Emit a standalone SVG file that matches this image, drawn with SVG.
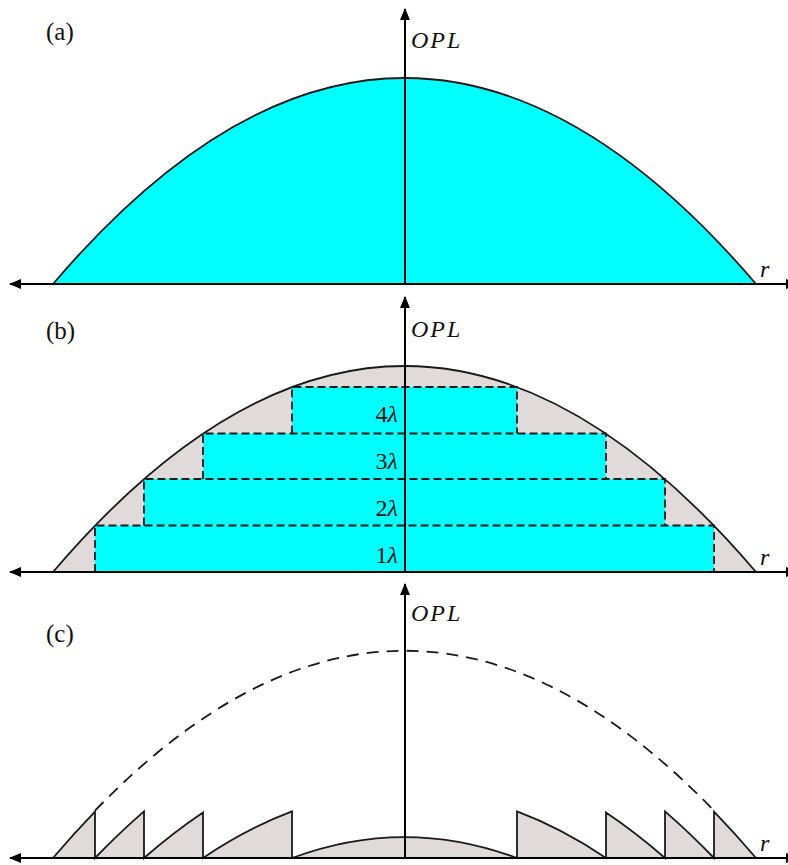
<svg xmlns="http://www.w3.org/2000/svg" width="788" height="865" viewBox="0 0 788 865">
<defs>
<style>
.lbl{font-family:"Liberation Serif","DejaVu Serif",serif;font-size:25px;fill:#111}
.math{font-family:"Liberation Serif","DejaVu Serif",serif;font-size:24px;font-style:italic;fill:#111;letter-spacing:2px}
.step{font-family:"Liberation Serif","DejaVu Serif",serif;font-size:24px;fill:#111}
.axis{stroke:#000;stroke-width:2;fill:none}
.curve{stroke:#1a1a1a;stroke-width:1.8;fill:none}
.cyan{fill:#00FFFF}
.grey{fill:#E1DADA}
.dash{stroke:#1a1a1a;stroke-width:1.8;fill:none;stroke-dasharray:8 4}
.dash2{stroke:#1a1a1a;stroke-width:1.8;fill:none;stroke-dasharray:12 8}
</style>
<marker id="ah" viewBox="0 0 12 10" refX="11" refY="5" markerWidth="12" markerHeight="10" markerUnits="userSpaceOnUse" orient="auto-start-reverse">
<path d="M0,0 L12,5 L0,10 Z" fill="#000"/>
</marker>
</defs>

<!-- Panel (a) -->
<g id="panel-a" transform="translate(0,284)">
<path class="cyan" d="M53,0 Q404.5,-412 756,0 Z"/>
<path class="curve" d="M53,0 Q404.5,-412 756,0"/>
</g>

<!-- Panel (b) -->
<g id="panel-b" transform="translate(0,572)">
<path class="grey" d="M53,0 Q404.5,-412 756,0 Z"/>
<rect class="cyan" x="95" y="-46.5" width="619" height="46.5"/>
<rect class="cyan" x="144" y="-93" width="521" height="46.5"/>
<rect class="cyan" x="203" y="-138.5" width="403" height="45.5"/>
<rect class="cyan" x="292" y="-185" width="225" height="46.5"/>
<path class="dash" d="M95,0 V-46.5 H714 V0"/>
<path class="dash" d="M144,-46.5 V-93 H665 V-46.5"/>
<path class="dash" d="M203,-93 V-138.5 H606 V-93"/>
<path class="dash" d="M292,-138.5 V-185 H517 V-138.5"/>
<path class="curve" d="M53,0 Q404.5,-412 756,0"/>
<text class="step" x="398" y="-150" text-anchor="end">4<tspan font-style="italic">λ</tspan></text>
<text class="step" x="398" y="-103" text-anchor="end">3<tspan font-style="italic">λ</tspan></text>
<text class="step" x="398" y="-56" text-anchor="end">2<tspan font-style="italic">λ</tspan></text>
<text class="step" x="398" y="-9" text-anchor="end">1<tspan font-style="italic">λ</tspan></text>
</g>

<!-- Panel (c) -->
<g id="panel-c" transform="translate(0,858)">
<path class="grey" stroke="#1a1a1a" stroke-width="1.8" stroke-linejoin="miter" d="M53,0 Q74,-24.65 95,-46.35 L95,0 Q119.5,-25.32 144,-46.62 L144,0 Q173.5,-25.65 203,-45.48 L203,0 Q247.5,-29.91 292,-46.55 L292,0 Q404.5,-41.94 517,0 L517,-46.55 Q561.5,-29.91 606,0 L606,-45.48 Q635.5,-25.65 665,0 L665,-46.62 Q689.5,-25.32 714,0 L714,-46.35 Q735,-24.65 756,0 Z"/>
<path class="dash2" d="M95,-47.35 Q404.5,-367.15 714,-47.35"/>
</g>

<!-- Axes / connectors -->
<g id="axes">
<line class="axis" x1="797" y1="284" x2="10" y2="284" marker-start="url(#ah)" marker-end="url(#ah)"/>
<line class="axis" x1="405" y1="284" x2="405" y2="9" marker-end="url(#ah)"/>
<line class="axis" x1="797" y1="572" x2="10" y2="572" marker-start="url(#ah)" marker-end="url(#ah)"/>
<line class="axis" x1="405" y1="572" x2="405" y2="297" marker-end="url(#ah)"/>
<line class="axis" x1="797" y1="858" x2="10" y2="858" marker-start="url(#ah)" marker-end="url(#ah)"/>
<line class="axis" x1="405" y1="858" x2="405" y2="584" marker-end="url(#ah)"/>
</g>

<!-- Labels -->
<g id="labels">
<text class="lbl" x="46" y="40">(a)</text>
<text class="lbl" x="46" y="339">(b)</text>
<text class="lbl" x="46" y="642">(c)</text>
<text class="math" x="411" y="48">OPL</text>
<text class="math" x="411" y="337">OPL</text>
<text class="math" x="411" y="621">OPL</text>
<text class="math" x="760" y="277">r</text>
<text class="math" x="760" y="565">r</text>
<text class="math" x="760" y="851">r</text>
</g>
</svg>
